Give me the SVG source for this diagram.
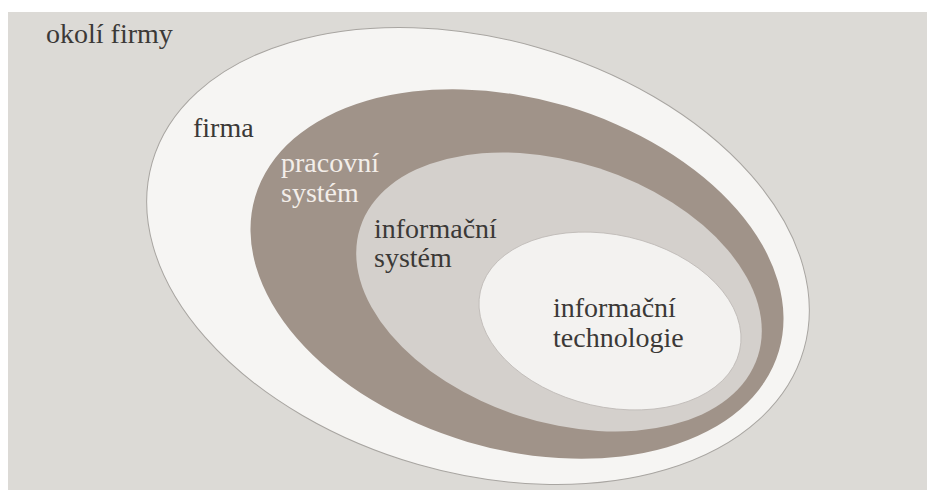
<svg xmlns="http://www.w3.org/2000/svg" width="927" height="491" viewBox="0 0 927 491">
<style>
text{font-size:28px;fill:#3b3937}
.light{fill:#f3eee9}
</style>
<rect x="0" y="0" width="927" height="491" fill="#ffffff"/>
<rect id="okoli-bg" x="8" y="12" width="919" height="478" fill="#dcdad6"/>
<g font-family="'Liberation Serif', 'DejaVu Serif', serif">
<g id="okoli"><text x="46" y="43">okolí firmy</text></g>
<g id="firma">
<ellipse cx="478" cy="256" rx="339" ry="217" transform="rotate(16 478 256)" fill="#f6f5f3" stroke="#a8a5a1" stroke-width="1"/>
<text x="193" y="137">firma</text>
</g>
<g id="pracovni-system">
<ellipse cx="517" cy="274" rx="273" ry="175" transform="rotate(16.4 517 274)" fill="#a09389"/>
<text class="light" x="281" y="172">pracovní</text>
<text class="light" x="281" y="202">systém</text>
</g>
<g id="informacni-system">
<ellipse cx="559" cy="292" rx="209" ry="130" transform="rotate(18 559 292)" fill="#d4d0cc"/>
<text x="374" y="238">informační</text>
<text x="374" y="267">systém</text>
</g>
<g id="informacni-technologie">
<ellipse cx="610" cy="321" rx="133" ry="86" transform="rotate(13 610 321)" fill="#f3f2f0" stroke="#bdb9b5" stroke-width="0.8"/>
<text x="553" y="317">informační</text>
<text x="553" y="347">technologie</text>
</g>
</g>
<g id="connectors"/>
</svg>
